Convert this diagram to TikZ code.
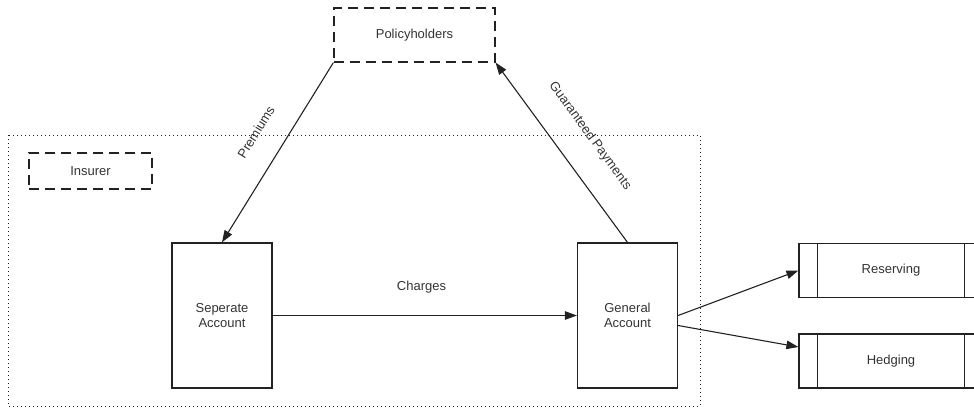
\documentclass[tikz,border=0pt]{standalone}
\usepackage{fontspec}
\setmainfont{Liberation Sans}
\usetikzlibrary{arrows.meta,calc}
\definecolor{txt}{HTML}{333333}
\definecolor{ln}{HTML}{222222}
\tikzset{
  lbl/.style={text=txt, font=\fontsize{13}{15}\selectfont, inner sep=0pt},
  dbox/.style={draw=ln, line width=1.2pt, dash pattern=on 10pt off 6pt, lbl, minimum width=#1, minimum height=36pt},
  acct/.style={draw=ln, line width=1.2pt, lbl, minimum width=100pt, minimum height=145pt, align=center},
  proc/.style={draw=ln, line width=1.2pt, lbl, minimum width=184pt, minimum height=54pt},
  conn/.style={draw=ln, line width=1.1pt, -{Triangle[length=12pt,width=8.5pt]}},
}
\begin{document}
\begin{tikzpicture}[x=1pt,y=-1pt]
\useasboundingbox (0,0) rectangle (974,410);
\clip (0,0) rectangle (974,410);
% insurer boundary
\draw[ln, line width=1pt, dash pattern=on 1pt off 3pt] (8,135) rectangle (700,406);
% nodes
\node[dbox=161pt, minimum height=54pt] (ph) at (414.5,35) {Policyholders};
\node[dbox=123pt] (ins) at (90.5,171) {Insurer};
\node[acct] (sep) at (222,315.5) {Seperate\\Account};
\node[acct] (gen) at (627.5,315.5) {General\\Account};
\node[proc] (res) at (891,270.5) {Reserving};
\node[proc] (hed) at (891,361) {Hedging};
% inner bars of process boxes
\foreach \n in {res,hed}{
  \draw[ln, line width=1.2pt] ($(\n.north west)+(19,0)$) -- ($(\n.south west)+(19,0)$);
  \draw[ln, line width=1.2pt] ($(\n.north east)+(-19,0)$) -- ($(\n.south east)+(-19,0)$);
}
% connectors
\draw[conn] (ph.south west) -- (sep.north);
\draw[conn] (gen.north) -- (ph.south east);
\draw[conn] (sep.east) -- (gen.west);
\draw[conn] (gen.east) -- (res.west);
\draw[conn] ($(gen.east)+(0,10)$) -- ($(hed.west)+(0,-14)$);
% labels
\node[lbl, rotate=58.3] (lprem) at (256,132) {Premiums};
\node[lbl, rotate=-53.9] (lgp) at (590,136) {Guaranteed Payments};
\node[lbl] (lch) at (421.5,287) {Charges};
\end{tikzpicture}
\end{document}
